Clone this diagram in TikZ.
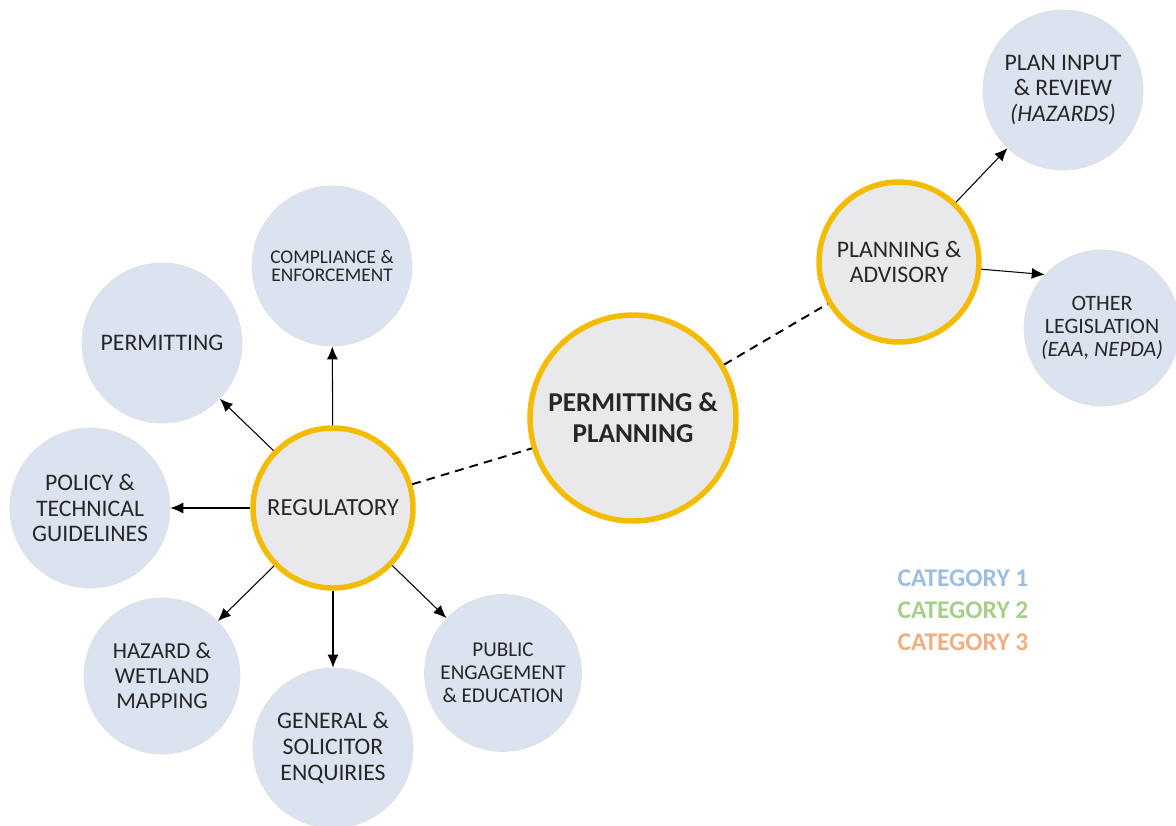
\documentclass[tikz,border=0pt]{standalone}
\usepackage{fontspec}
\setmainfont{Carlito}
\usetikzlibrary{arrows.meta,positioning}
\definecolor{bubble}{HTML}{DCE3F0}
\definecolor{hubfill}{HTML}{E9E9EC}
\definecolor{hubring}{HTML}{F4BC00}
\definecolor{inktext}{HTML}{262626}
\definecolor{catone}{HTML}{9DBEE0}
\definecolor{cattwo}{HTML}{A6CF8A}
\definecolor{catthree}{HTML}{F2AE7F}
\newcommand{\fs}[2]{\fontsize{#1}{#2}\selectfont}
\tikzset{
  leaf/.style={circle, fill=bubble, draw=black!12, minimum size=3.2cm, inner sep=0pt, align=center, text=inktext},
  hub/.style={circle, fill=hubfill, draw=hubring, line width=3.1pt, minimum size=3.2cm, inner sep=0pt, align=center, text=inktext},
  link/.style={-{Latex[length=2.6mm,width=2.2mm]}, line width=0.6pt},
  tie/.style={line width=1.1pt, dash pattern=on 5pt off 3.5pt},
  legend/.style={font=\fs{14.5}{16}\bfseries}
}
\begin{document}
\begin{tikzpicture}[x=0.02cm, y=-0.02cm]
\useasboundingbox (0,0) rectangle (1176,825);
% hubs
\node[hub, minimum size=4.12cm, font=\fs{15.5}{17.5}\bfseries] (pp) at (633,418) {PERMITTING \&\\PLANNING};
\node[hub, font=\fs{14}{14.7}] (reg) at (333,508) {REGULATORY};
\node[hub, font=\fs{13.5}{14.7}] (adv) at (899,262) {PLANNING \&\\ADVISORY};
% regulatory branch
\node[leaf, font=\fs{11}{10.5}] (comp) at (332,266) {COMPLIANCE \&\\ENFORCEMENT};
\node[leaf, font=\fs{13.5}{14.7}] (perm) at (162,343) {PERMITTING};
\node[leaf, font=\fs{13.5}{14.7}] (policy) at (90,508) {POLICY \&\\TECHNICAL\\GUIDELINES};
\node[leaf, minimum size=3.12cm, font=\fs{13}{14.2}] (hazard) at (162,676) {HAZARD \&\\WETLAND\\MAPPING};
\node[leaf, font=\fs{13.5}{15}] (enq) at (333,748) {GENERAL \&\\SOLICITOR\\ENQUIRIES};
\node[leaf, minimum size=3.14cm, font=\fs{12}{13}] (public) at (503,673) {PUBLIC\\ENGAGEMENT\\\& EDUCATION};
% planning branch
\node[leaf, font=\fs{13.5}{14.7}] (review) at (1063,90) {PLAN INPUT\\\& REVIEW\\\textit{(HAZARDS)}};
\node[leaf, minimum size=3.12cm, font=\fs{12.5}{13.3}] (other) at (1102,328) {OTHER\\LEGISLATION\\\textit{(EAA, NEPDA)}};
% connectors
\draw[link] (reg) -- (comp);
\draw[link] (reg) -- (perm);
\draw[link] (reg) -- (policy);
\draw[link] (reg) -- (hazard);
\draw[link] (reg) -- (enq);
\draw[link] (reg) -- (public);
\draw[tie] (reg) -- (pp);
\draw[tie] (pp) -- (adv);
\draw[link] (adv) -- (review);
\draw[link] (adv.-5) -- (other.137);
% legend
\node[legend, text=catone] (cat1) at (963,578) {CATEGORY 1};
\node[legend, text=cattwo] (cat2) at (963,610) {CATEGORY 2};
\node[legend, text=catthree] (cat3) at (963,642) {CATEGORY 3};
\end{tikzpicture}
\end{document}
